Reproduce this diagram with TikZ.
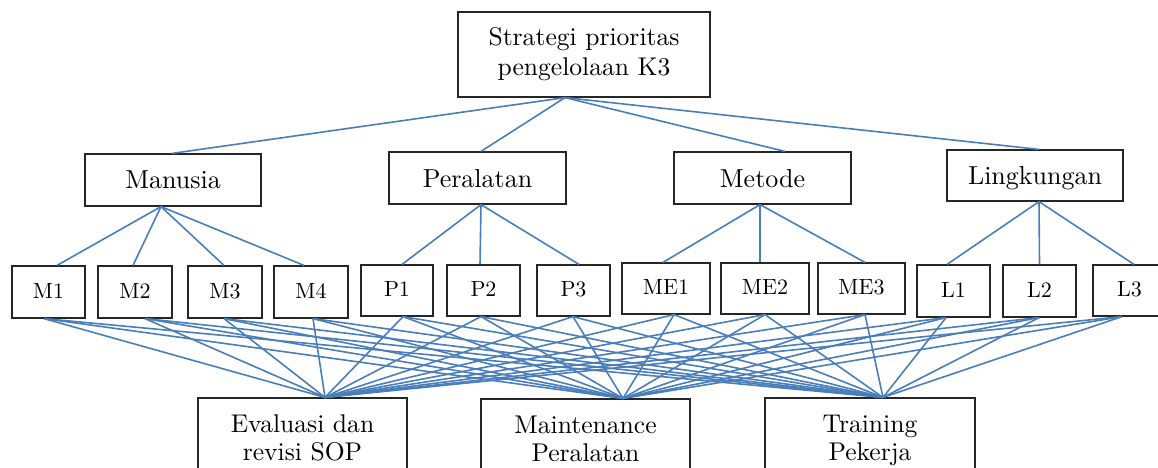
\documentclass[tikz,border=0pt]{standalone}
\usepackage{fontspec}
\setmainfont{lmroman10-regular.otf}
\usetikzlibrary{calc}
\definecolor{lineblue}{RGB}{74,126,187}
\begin{document}
\begin{tikzpicture}[x=1pt,y=-1pt,
  box/.style={draw=black!85, line width=1.2pt, rectangle, inner sep=0pt, align=center},
  onebox/.style={box, font=\fontsize{26}{30}\selectfont, text depth=0pt},
  smallbox/.style={box, font=\fontsize{22}{26}\selectfont, text height=12pt, text depth=0pt},
  twobox/.style={box, font=\fontsize{25.6}{28}\selectfont},
  conn/.style={draw=lineblue, line width=1.6pt}]
\useasboundingbox (0,0) rectangle (1158,468);
\clip (0,0) rectangle (1158,468);

% top
\node[box, font=\fontsize{25.6}{30}\selectfont, minimum width=252pt, minimum height=85pt] (top) at (584,54.5)
  {\strut Strategi prioritas\\\strut pengelolaan K3};

% level 2
\node[onebox, minimum width=176pt, minimum height=52pt] (man) at (173,180) {Manusia};
\node[onebox, minimum width=177pt, minimum height=52pt] (per) at (477.5,178) {Peralatan};
\node[onebox, minimum width=177pt, minimum height=52pt] (met) at (762.5,178) {Metode};
\node[onebox, minimum width=176pt, minimum height=51pt] (lin) at (1035,175.5) {Lingkungan};

% level 3
\node[smallbox, minimum width=73pt, minimum height=52pt] (m1) at (48.5,292) {M1};
\node[smallbox, minimum width=74pt, minimum height=52pt] (m2) at (135,292) {M2};
\node[smallbox, minimum width=74pt, minimum height=52pt] (m3) at (225,292) {M3};
\node[smallbox, minimum width=74pt, minimum height=52pt] (m4) at (311,292) {M4};
\node[smallbox, minimum width=72pt, minimum height=51pt] (p1) at (397,290.5) {P1};
\node[smallbox, minimum width=73pt, minimum height=51pt] (p2) at (483.5,290.5) {P2};
\node[smallbox, minimum width=73pt, minimum height=51pt] (p3) at (573.5,290.5) {P3};
\node[smallbox, minimum width=88pt, minimum height=51pt] (me1) at (666,288.5) {ME1};
\node[smallbox, minimum width=88pt, minimum height=51pt] (me2) at (765,288.5) {ME2};
\node[smallbox, minimum width=87pt, minimum height=51pt] (me3) at (861.5,288.5) {ME3};
\node[smallbox, minimum width=73pt, minimum height=52pt] (l1) at (953.5,291) {L1};
\node[smallbox, minimum width=73pt, minimum height=52pt] (l2) at (1039.5,291) {L2};
\node[smallbox, minimum width=73pt, minimum height=51pt] (l3) at (1129.5,290.5) {L3};

% bottom
\node[twobox, minimum width=209pt, minimum height=86pt] (eval) at (302.5,441)
  {\strut Evaluasi dan\\\strut revisi SOP};
\node[twobox, minimum width=209pt, minimum height=86pt] (maint) at (585.5,442)
  {\strut Maintenance\\\strut Peralatan};
\node[twobox, minimum width=210pt, minimum height=86pt] (train) at (870,441)
  {\strut Training\\\strut Pekerja};

% top to level 2
\foreach \n/\o in {man/-1, per/3.5, met/22.5, lin/4}
  \draw[conn] ([xshift=-19pt]top.south) -- ([xshift=\o pt]\n.north);

% level 2 to level 3
\foreach \n/\o in {m1/8.5, m2/-2, m3/-1, m4/-7}
  \draw[conn] ([xshift=-12pt]man.south) -- ([xshift=\o pt]\n.north);
\foreach \n/\o in {p1/5, p2/-3.5, p3/5.5}
  \draw[conn] ([xshift=3.5pt]per.south) -- ([xshift=\o pt]\n.north);
\foreach \n/\o in {me1/-3, me2/-5, me3/3.5}
  \draw[conn] ([xshift=-2.5pt]met.south) -- ([xshift=\o pt]\n.north);
\foreach \n/\o in {l1/-6.5, l2/0, l3/4.5}
  \draw[conn] ([xshift=4pt]lin.south) -- ([xshift=\o pt]\n.north);

% level 3 to bottom
\foreach \n/\o in {m1/-4.5, m2/10, m3/-1, m4/2, p1/6, p2/-2.5, p3/-0.5, me1/8, me2/0, me3/3.5, l1/-7.5, l2/-0.5, l3/-7.5}
  \foreach \t/\q in {eval/22.5, maint/37.5, train/13}
    \draw[conn] ([xshift=\o pt]\n.south) -- ([xshift=\q pt]\t.north);
\end{tikzpicture}
\end{document}
